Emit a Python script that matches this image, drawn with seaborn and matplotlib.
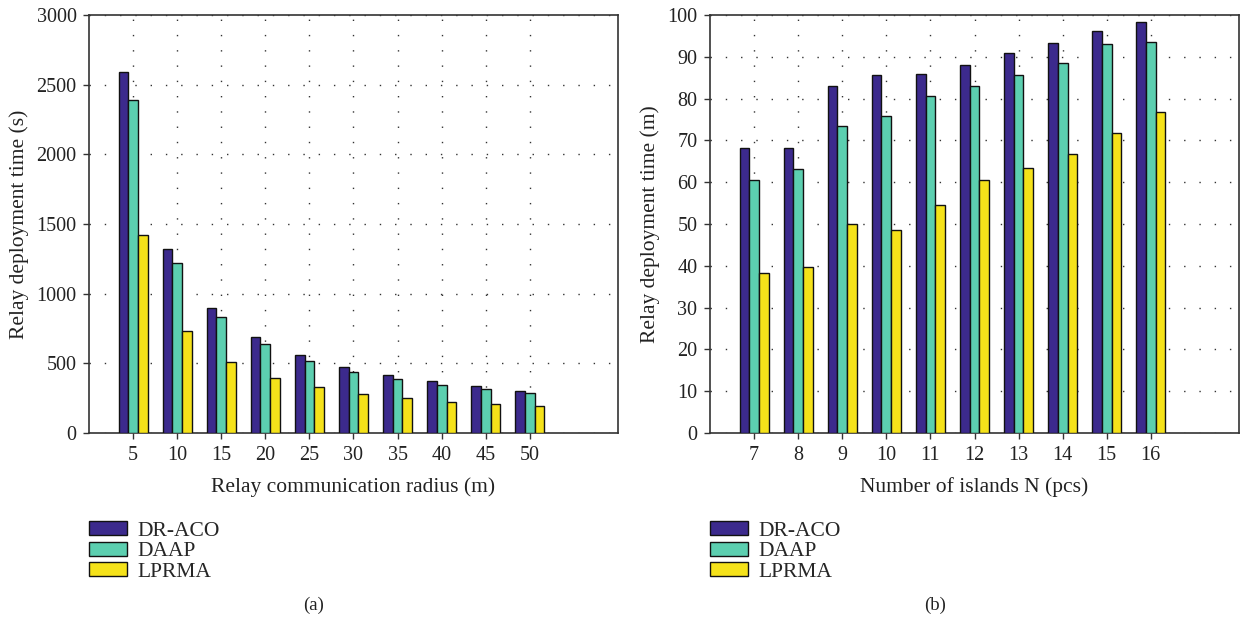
import numpy as np
import pandas as pd
import matplotlib
matplotlib.use("Agg")
import matplotlib.pyplot as plt
import seaborn as sns

# ---- data ----
series = ["DR-ACO", "DAAP", "LPRMA"]
radius = [5, 10, 15, 20, 25, 30, 35, 40, 45, 50]
time_a_draco = [2590, 1320, 897, 687, 558, 477, 415, 370, 336, 305]
time_a_daap = [2391, 1222, 833, 637, 520, 441, 387, 346, 313, 286]
time_a_lprma = [1420, 735, 506, 394, 327, 282, 248, 224, 205, 191]

islands = [7, 8, 9, 10, 11, 12, 13, 14, 15, 16]
time_b_draco = [68.2, 68.2, 83.1, 85.6, 85.9, 88.1, 90.8, 93.3, 96.1, 98.4]
time_b_daap = [60.5, 63.1, 73.4, 75.9, 80.6, 83.1, 85.6, 88.5, 93.1, 93.6]
time_b_lprma = [38.3, 39.7, 50.0, 48.6, 54.6, 60.6, 63.5, 66.8, 71.7, 76.7]

colors = ["#3c2a8d", "#5ccfb0", "#f5e21a"]

sns.set_theme(style="white")
plt.rcParams["font.family"] = ["Liberation Serif", "DejaVu Serif"]
FS = 14.5
LFS = 15.5

def long_df(cats, a, b, c):
    rows = []
    for name, vals in zip(series, [a, b, c]):
        for k, v in zip(cats, vals):
            rows.append({"cat": str(k), "series": name, "value": v})
    return pd.DataFrame(rows)

df_a = long_df(radius, time_a_draco, time_a_daap, time_a_lprma)
df_b = long_df(islands, time_b_draco, time_b_daap, time_b_lprma)

fig = plt.figure(figsize=(12.49, 6.20), dpi=100)
ax1 = fig.add_axes([89/1249, 1-433/620, 529/1249, 418/620])
ax2 = fig.add_axes([710/1249, 1-433/620, 529/1249, 418/620])

def draw(ax, df, order, yticks, ylim, xlabel, ylabel):
    sns.barplot(data=df, x="cat", y="value", hue="series", order=[str(o) for o in order],
                hue_order=series, palette=colors, width=0.66, gap=0, saturation=1,
                edgecolor="#111111", linewidth=1.0, errorbar=None, ax=ax, zorder=3,
                legend=True)
    ax.set_xlim(-1, 11)
    ax.set_ylim(*ylim)
    ax.set_yticks(yticks)
    ax.set_yticklabels([str(t) for t in yticks])
    ax.grid(True, linestyle=(0, (1, 10)), linewidth=1.0, color="#333333", zorder=0)
    ax.set_axisbelow(True)
    for s in ax.spines.values():
        s.set_visible(True)
        s.set_color("#333333")
        s.set_linewidth(1.2)
    ax.tick_params(axis="both", direction="out", length=4, width=1, colors="#333333",
                   labelcolor="#222222", labelsize=FS, pad=5, bottom=True, left=True)
    ax.set_xlabel(xlabel, fontsize=LFS, color="#222222", labelpad=9)
    ax.set_ylabel(ylabel, fontsize=LFS, color="#222222", labelpad=5)
    h, l = ax.get_legend_handles_labels()
    ax.get_legend().remove()
    return h, l

h, l = draw(ax1, df_a, radius, [0, 500, 1000, 1500, 2000, 2500, 3000], (0, 3000),
            "Relay communication radius (m)", "Relay deployment time (s)")
draw(ax2, df_b, islands, list(range(0, 101, 10)), (0, 100),
     "Number of islands N (pcs)", "Relay deployment time (m)")

for x0 in [74/1249, 695/1249]:
    fig.legend(h, series, loc="upper left", bbox_to_anchor=(x0, 1-506/620),
               frameon=False, fontsize=LFS, handlelength=1.75, handleheight=0.62,
               labelspacing=0.05, handletextpad=0.5, borderpad=0.2)

fig.text(314/1249, 1-605/620, "(a)", ha="center", va="center", fontsize=FS-1, color="#222222")
fig.text(935/1249, 1-605/620, "(b)", ha="center", va="center", fontsize=FS-1, color="#222222")

fig.savefig("out.png", dpi=100)
